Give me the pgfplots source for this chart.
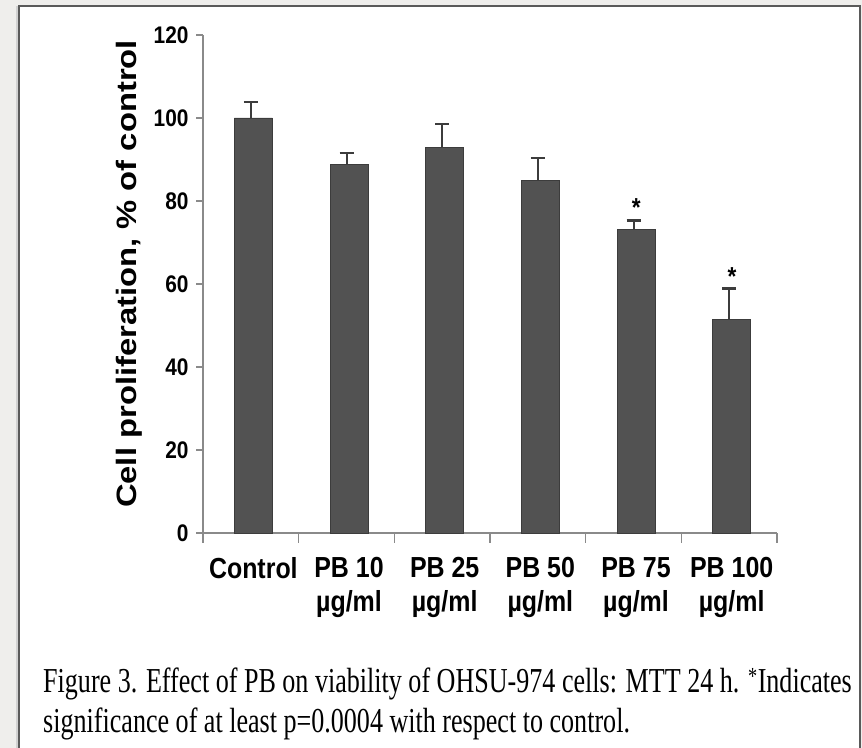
\documentclass[border=0pt]{standalone}
\usepackage{fontspec}
\usepackage{pgfplots}
\pgfplotsset{compat=1.18}
\newfontfamily\tickfont[FakeStretch=0.87]{Liberation Sans}
\newfontfamily\xfont[FakeStretch=0.86]{Liberation Sans}
\newfontfamily\ylabfont[FakeStretch=1.17]{Liberation Sans}
\newfontfamily\capfont[FakeStretch=0.745]{Liberation Serif}
\definecolor{barfill}{HTML}{525252}
\definecolor{bardraw}{HTML}{3C3C3C}
\definecolor{axgray}{HTML}{8A8A8A}
\definecolor{bggray}{HTML}{EFEEEC}
\definecolor{framegray}{HTML}{5A5A5A}
\begin{document}
\begin{tikzpicture}[x=1bp,y=1bp]
\useasboundingbox (0,0) rectangle (862,748);
\fill[bggray] (0,0) rectangle (862,748);
\fill[black!18] (16,-10) rectangle (19,742);
\filldraw[fill=white, draw=framegray, line width=1.5bp] (19,-10) rectangle (860,742);
\begin{axis}[
  at={(203bp,215bp)}, anchor=south west,
  scale only axis, width=574bp, height=498bp,
  xmin=-0.5, xmax=5.5, ymin=0, ymax=120,
  axis x line=bottom, axis y line=left,
  axis line style={-, axgray, line width=1.2bp},
  ytick={0,20,...,120},
  xtick={-0.5,0.5,...,5.5},
  x tick label as interval,
  xticklabels={Control,{PB 10\\µg/ml},{PB 25\\µg/ml},{PB 50\\µg/ml},{PB 75\\µg/ml},{PB 100\\µg/ml}},
  tick align=outside,
  xtick style={axgray, line width=1.2bp, /pgfplots/major tick length=10bp},
  ytick style={axgray, line width=1.2bp, /pgfplots/major tick length=7bp},
  /pgf/number format/assume math mode=true,
  yticklabel style={font=\tickfont\bfseries\fontsize{24bp}{26bp}\selectfont, inner sep=2bp, xshift=-8bp},
  xticklabel style={font=\xfont\bfseries\fontsize{29bp}{34bp}\selectfont, align=center, inner sep=0bp, yshift=-20bp, xshift=2.5bp},
  ylabel={Cell proliferation, \% of control},
  every axis y label/.style={at={(axis description cs:-0.129,0.52)}, rotate=90, anchor=center,
    font=\ylabfont\bfseries\fontsize{28bp}{30bp}\selectfont},
  clip=false,
]
\addplot[ybar, bar width=38bp, bar shift=2.5bp, fill=barfill, draw=bardraw, line width=0.8bp,
  error bars/.cd, y dir=plus, y explicit,
  error bar style={bardraw, line width=2bp},
  error mark options={rotate=90, mark size=7bp, line width=2.2bp, bardraw}]
coordinates {
 (0,100) +- (0,3.8)
 (1,88.7) +- (0,2.8)
 (2,92.9) +- (0,5.7)
 (3,84.9) +- (0,5.5)
 (4,73.2) +- (0,2.1)
 (5,51.5) +- (0,7.4)
};
\node[font=\tickfont\bfseries\fontsize{26bp}{26bp}\selectfont, inner sep=0] at (axis cs:4.03,78.5) {*};
\node[font=\tickfont\bfseries\fontsize{26bp}{26bp}\selectfont, inner sep=0] at (axis cs:5.03,61.7) {*};
\end{axis}
\node[anchor=base west, inner sep=0, font=\capfont\fontsize{35bp}{40bp}\selectfont] at (43,55) {Figure 3. Effect of PB on viability of OHSU-974 cells: MTT 24 h. \textsuperscript{*}Indicates};
\node[anchor=base west, inner sep=0, font=\capfont\fontsize{35bp}{40bp}\selectfont] at (43,15) {significance of at least p=0.0004 with respect to control.};
\end{tikzpicture}
\end{document}
